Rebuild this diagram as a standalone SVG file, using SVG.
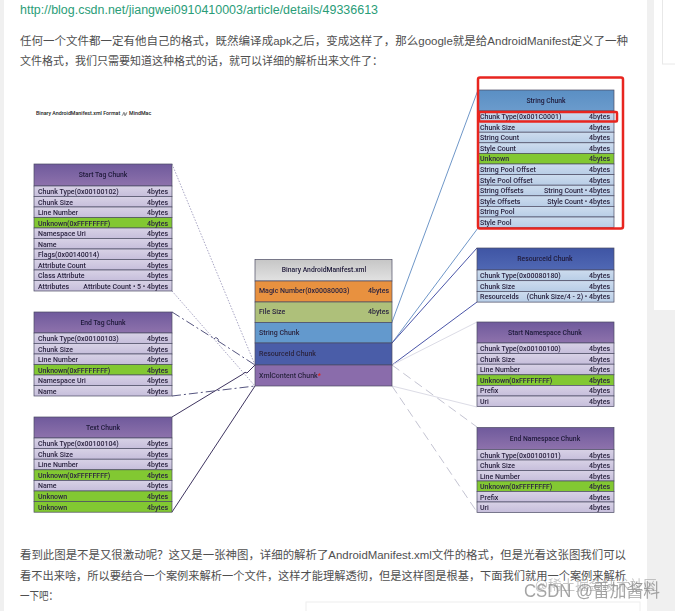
<svg xmlns="http://www.w3.org/2000/svg" width="675" height="611" viewBox="0 0 675 611">
<style>
.p{font:11.600px "Liberation Sans","Noto Sans CJK SC",sans-serif;fill:#4f4f4f}
.u{font:12.500px "Liberation Sans",sans-serif;fill:#2a9d78}
.m{font:500 5.300px Roboto,sans-serif;fill:#222}
.t{font:500 7px Roboto,"Liberation Sans",sans-serif;fill:#2b2440;filter:url(#b)}
.h{font:500 6.800px Roboto,"Liberation Sans",sans-serif;fill:#1f1a3a;text-anchor:middle;filter:url(#b)}
.e{text-anchor:end}
.r{stroke:#4b4a63;stroke-width:.7}
.pr{fill:url(#rowP)}.bl{fill:url(#rowB)}.gr{fill:#82c832}
.c{fill:none;stroke-width:1}
</style>
<defs>
<filter id="b" x="-5%" y="-20%" width="110%" height="140%"><feGaussianBlur stdDeviation="0.22"/></filter>
<linearGradient id="hP" x1="0" y1="0" x2="0" y2="1"><stop offset="0" stop-color="#6f5a9c"/><stop offset="1" stop-color="#8e72ac"/></linearGradient>
<linearGradient id="hB" x1="0" y1="0" x2="0" y2="1"><stop offset="0" stop-color="#5a8fc4"/><stop offset="1" stop-color="#6b9bcc"/></linearGradient>
<linearGradient id="hD" x1="0" y1="0" x2="0" y2="1"><stop offset="0" stop-color="#3f55a4"/><stop offset="1" stop-color="#5068b4"/></linearGradient>
<linearGradient id="hG" x1="0" y1="0" x2="0" y2="1"><stop offset="0" stop-color="#c6c6c6"/><stop offset="1" stop-color="#e2e2e2"/></linearGradient>
<linearGradient id="rowP" x1="0" y1="0" x2="0" y2="1"><stop offset="0" stop-color="#d8d2e6"/><stop offset="1" stop-color="#c6bedb"/></linearGradient>
<linearGradient id="rowB" x1="0" y1="0" x2="0" y2="1"><stop offset="0" stop-color="#cddcee"/><stop offset="1" stop-color="#b8cde6"/></linearGradient>
</defs>
<rect width="675" height="611" fill="#f0f0f0"/>
<rect x="4" width="643" height="611" fill="#fff"/>
<rect x="654" width="21" height="310" fill="#fff"/>
<rect x="662.500" y="-2" width="20" height="66" fill="#fff" stroke="#e8e8e8"/>
<rect x="306" y="602" width="334" height="12" fill="#fff" stroke="#eee"/>
<text class="u" x="20" y="14" textLength="358" lengthAdjust="spacingAndGlyphs">http://blog.csdn.net/jiangwei0910410003/article/details/49336613</text>
<text class="p" x="20" y="45" textLength="608" lengthAdjust="spacingAndGlyphs">任何一个文件都一定有他自己的格式，既然编译成apk之后，变成这样了，那么google就是给AndroidManifest定义了一种</text>
<text class="p" x="20" y="65" textLength="363" lengthAdjust="spacingAndGlyphs">文件格式，我们只需要知道这种格式的话，就可以详细的解析出来文件了：</text>
<text class="m" x="36" y="115">Binary AndroidManifest.xml Format</text>
<path d="M122 116l2-4 1 4 2-4M123 114h4" fill="none" stroke="#444" stroke-width=".5"/>
<text class="m" x="129" y="115">MindMac</text>
<text class="p" x="20" y="559" textLength="606" lengthAdjust="spacingAndGlyphs">看到此图是不是又很激动呢？这又是一张神图，详细的解析了AndroidManifest.xml文件的格式，但是光看这张图我们可以</text>
<text class="p" x="20" y="580" textLength="606" lengthAdjust="spacingAndGlyphs">看不出来啥，所以要结合一个案例来解析一个文件，这样才能理解透彻，但是这样图是根基，下面我们就用一个案例来解析</text>
<text class="p" x="20" y="600" textLength="38" lengthAdjust="spacingAndGlyphs">一下吧：</text>
<g id="connectors">
<path class="c" stroke="#a9a6c4" stroke-dasharray="1.500 1.500" d="M172 164L255 365M172 291L255 386"/>
<path class="c" stroke="#55557f" stroke-dasharray="9 3 2 3" d="M172 312L214 338.500M218 341L255 365M172 396L255 386"/>
<path class="c" stroke="#55557f" stroke-width=".7" d="M214 339a2 2 0 1 1 4 2"/>
<path class="c" stroke="#3f3560" d="M172 417L243 374Q245 371 247 373L255 365M172 512L255 386"/>
<path class="c" stroke="#6f97c8" d="M392 322L478 90M392 343L478 228"/>
<path class="c" stroke="#4a55a8" d="M392 343L477 248M392 365L477 302"/>
<path class="c" stroke="#dcdce6" d="M392 365L477 322M392 386L477 407"/>
<path class="c" stroke="#c4c4d2" stroke-dasharray="9 5" d="M392 365L477 427M392 386L477 512"/>
</g>
<g id="start-tag">
<rect x="34" y="164" width="138" height="22" fill="url(#hP)" class="r"/><text class="h" x="103" y="177">Start Tag Chunk</text>
<rect x="34" y="186" width="138" height="10.500" class="pr r"/><text class="t" x="38" y="194">Chunk Type(0x00100102)</text><text class="t e" x="168" y="194">4bytes</text>
<rect x="34" y="196.500" width="138" height="10.500" class="pr r"/><text class="t" x="38" y="204.500">Chunk Size</text><text class="t e" x="168" y="204.500">4bytes</text>
<rect x="34" y="207" width="138" height="10.500" class="pr r"/><text class="t" x="38" y="215">Line Number</text><text class="t e" x="168" y="215">4bytes</text>
<rect x="34" y="217.500" width="138" height="10.500" class="gr r"/><text class="t" x="38" y="225.500">Unknown(0xFFFFFFFF)</text><text class="t e" x="168" y="225.500">4bytes</text>
<rect x="34" y="228" width="138" height="10.500" class="pr r"/><text class="t" x="38" y="236">Namespace Uri</text><text class="t e" x="168" y="236">4bytes</text>
<rect x="34" y="238.500" width="138" height="10.500" class="pr r"/><text class="t" x="38" y="246.500">Name</text><text class="t e" x="168" y="246.500">4bytes</text>
<rect x="34" y="249" width="138" height="10.500" class="pr r"/><text class="t" x="38" y="257">Flags(0x00140014)</text><text class="t e" x="168" y="257">4bytes</text>
<rect x="34" y="259.500" width="138" height="10.500" class="pr r"/><text class="t" x="38" y="267.500">Attribute Count</text><text class="t e" x="168" y="267.500">4bytes</text>
<rect x="34" y="270" width="138" height="10.500" class="pr r"/><text class="t" x="38" y="278">Class Attribute</text><text class="t e" x="168" y="278">4bytes</text>
<rect x="34" y="280.500" width="138" height="10.500" class="pr r"/><text class="t" x="38" y="288.500">Attributes</text><text class="t e" x="168" y="288.500">Attribute Count • 5 • 4bytes</text>
</g>
<g id="end-tag">
<rect x="34" y="312" width="138" height="21" fill="url(#hP)" class="r"/><text class="h" x="103" y="325">End Tag Chunk</text>
<rect x="34" y="333" width="138" height="10.500" class="pr r"/><text class="t" x="38" y="341">Chunk Type(0x00100103)</text><text class="t e" x="168" y="341">4bytes</text>
<rect x="34" y="343.500" width="138" height="10.500" class="pr r"/><text class="t" x="38" y="351.500">Chunk Size</text><text class="t e" x="168" y="351.500">4bytes</text>
<rect x="34" y="354" width="138" height="10.500" class="pr r"/><text class="t" x="38" y="362">Line Number</text><text class="t e" x="168" y="362">4bytes</text>
<rect x="34" y="364.500" width="138" height="10.500" class="gr r"/><text class="t" x="38" y="372.500">Unknown(0xFFFFFFFF)</text><text class="t e" x="168" y="372.500">4bytes</text>
<rect x="34" y="375" width="138" height="10.500" class="pr r"/><text class="t" x="38" y="383">Namespace Uri</text><text class="t e" x="168" y="383">4bytes</text>
<rect x="34" y="385.500" width="138" height="10.500" class="pr r"/><text class="t" x="38" y="393.500">Name</text><text class="t e" x="168" y="393.500">4bytes</text>
</g>
<g id="text-chunk">
<rect x="34" y="417" width="138" height="21" fill="url(#hP)" class="r"/><text class="h" x="103" y="430">Text Chunk</text>
<rect x="34" y="438" width="138" height="10.600" class="pr r"/><text class="t" x="38" y="446">Chunk Type(0x00100104)</text><text class="t e" x="168" y="446">4bytes</text>
<rect x="34" y="448.600" width="138" height="10.600" class="pr r"/><text class="t" x="38" y="456.600">Chunk Size</text><text class="t e" x="168" y="456.600">4bytes</text>
<rect x="34" y="459.200" width="138" height="10.600" class="pr r"/><text class="t" x="38" y="467.200">Line Number</text><text class="t e" x="168" y="467.200">4bytes</text>
<rect x="34" y="469.800" width="138" height="10.600" class="gr r"/><text class="t" x="38" y="477.800">Unknown(0xFFFFFFFF)</text><text class="t e" x="168" y="477.800">4bytes</text>
<rect x="34" y="480.400" width="138" height="10.600" class="pr r"/><text class="t" x="38" y="488.400">Name</text><text class="t e" x="168" y="488.400">4bytes</text>
<rect x="34" y="491" width="138" height="10.600" class="gr r"/><text class="t" x="38" y="499">Unknown</text><text class="t e" x="168" y="499">4bytes</text>
<rect x="34" y="501.600" width="138" height="10.600" class="gr r"/><text class="t" x="38" y="509.600">Unknown</text><text class="t e" x="168" y="509.600">4bytes</text>
</g>
<g id="manifest">
<rect x="255" y="259.500" width="137" height="21.500" fill="url(#hG)" class="r"/><text class="h" x="324" y="272">Binary AndroidManifest.xml</text>
<rect x="255" y="281" width="137" height="21" fill="#e8913f" class="r"/><text class="t" x="259" y="292.500">Magic Number(0x00080003)</text><text class="t e" x="389" y="292.500">4bytes</text>
<rect x="255" y="302" width="137" height="20.500" fill="#aec07a" class="r"/><text class="t" x="259" y="314">File Size</text><text class="t e" x="389" y="314">4bytes</text>
<rect x="255" y="322.500" width="137" height="20.500" fill="#6399cd" class="r"/><text class="t" x="259" y="335">String Chunk</text>
<rect x="255" y="343" width="137" height="22" fill="#4a5da8" class="r"/><text class="t" x="259" y="356">ResourceId Chunk</text>
<rect x="255" y="365" width="137" height="21" fill="#8a6cab" class="r"/><text class="t" x="259" y="378">XmlContent Chunk<tspan fill="#e02020">*</tspan></text>
</g>
<g id="string-chunk">
<rect x="478.500" y="90" width="135.500" height="21" fill="url(#hB)" class="r"/><text class="h" x="546" y="103">String Chunk</text>
<rect x="478.500" y="111" width="135.500" height="10.600" class="bl r"/><text class="t" x="480" y="119">Chunk Type(0x001C0001)</text><text class="t e" x="610" y="119">4bytes</text>
<rect x="478.500" y="121.600" width="135.500" height="10.600" class="bl r"/><text class="t" x="480" y="129.600">Chunk Size</text><text class="t e" x="610" y="129.600">4bytes</text>
<rect x="478.500" y="132.200" width="135.500" height="10.600" class="bl r"/><text class="t" x="480" y="140.200">String Count</text><text class="t e" x="610" y="140.200">4bytes</text>
<rect x="478.500" y="142.800" width="135.500" height="10.600" class="bl r"/><text class="t" x="480" y="150.800">Style Count</text><text class="t e" x="610" y="150.800">4bytes</text>
<rect x="478.500" y="153.400" width="135.500" height="10.600" class="gr r"/><text class="t" x="480" y="161.400">Unknown</text><text class="t e" x="610" y="161.400">4bytes</text>
<rect x="478.500" y="164" width="135.500" height="10.600" class="bl r"/><text class="t" x="480" y="172">String Pool Offset</text><text class="t e" x="610" y="172">4bytes</text>
<rect x="478.500" y="174.600" width="135.500" height="10.600" class="bl r"/><text class="t" x="480" y="182.600">Style Pool Offset</text><text class="t e" x="610" y="182.600">4bytes</text>
<rect x="478.500" y="185.200" width="135.500" height="10.600" class="bl r"/><text class="t" x="480" y="193.200">String Offsets</text><text class="t e" x="610" y="193.200">String Count • 4bytes</text>
<rect x="478.500" y="195.800" width="135.500" height="10.600" class="bl r"/><text class="t" x="480" y="203.800">Style Offsets</text><text class="t e" x="610" y="203.800">Style Count • 4bytes</text>
<rect x="478.500" y="206.400" width="135.500" height="10.600" class="bl r"/><text class="t" x="480" y="214.400">String Pool</text>
<rect x="478.500" y="217" width="135.500" height="10.600" class="bl r"/><text class="t" x="480" y="225">Style Pool</text>
</g>
<g id="resourceid-chunk">
<rect x="477" y="248" width="137" height="22" fill="url(#hD)" class="r"/><text class="h" x="545" y="261">ResourceId Chunk</text>
<rect x="477" y="270" width="137" height="10.700" class="bl r"/><text class="t" x="480" y="278">Chunk Type(0x00080180)</text><text class="t e" x="610" y="278">4bytes</text>
<rect x="477" y="280.700" width="137" height="10.700" class="bl r"/><text class="t" x="480" y="288.700">Chunk Size</text><text class="t e" x="610" y="288.700">4bytes</text>
<rect x="477" y="291.400" width="137" height="10.700" class="bl r"/><text class="t" x="480" y="299.400">ResourceIds</text><text class="t e" x="610" y="299.400">(Chunk Size/4 - 2) • 4bytes</text>
</g>
<g id="start-namespace">
<rect x="477" y="322" width="137" height="21" fill="url(#hP)" class="r"/><text class="h" x="545" y="335">Start Namespace Chunk</text>
<rect x="477" y="343" width="137" height="10.600" class="pr r"/><text class="t" x="480" y="351">Chunk Type(0x00100100)</text><text class="t e" x="610" y="351">4bytes</text>
<rect x="477" y="353.600" width="137" height="10.600" class="pr r"/><text class="t" x="480" y="361.600">Chunk Size</text><text class="t e" x="610" y="361.600">4bytes</text>
<rect x="477" y="364.200" width="137" height="10.600" class="pr r"/><text class="t" x="480" y="372.200">Line Number</text><text class="t e" x="610" y="372.200">4bytes</text>
<rect x="477" y="374.800" width="137" height="10.600" class="gr r"/><text class="t" x="480" y="382.800">Unknown(0xFFFFFFFF)</text><text class="t e" x="610" y="382.800">4bytes</text>
<rect x="477" y="385.400" width="137" height="10.600" class="pr r"/><text class="t" x="480" y="393.400">Prefix</text><text class="t e" x="610" y="393.400">4bytes</text>
<rect x="477" y="396" width="137" height="10.600" class="pr r"/><text class="t" x="480" y="404">Uri</text><text class="t e" x="610" y="404">4bytes</text>
</g>
<g id="end-namespace">
<rect x="477" y="427.500" width="137" height="22" fill="url(#hP)" class="r"/><text class="h" x="545" y="441">End Namespace Chunk</text>
<rect x="477" y="449.500" width="137" height="10.500" class="pr r"/><text class="t" x="480" y="457.500">Chunk Type(0x00100101)</text><text class="t e" x="610" y="457.500">4bytes</text>
<rect x="477" y="460" width="137" height="10.500" class="pr r"/><text class="t" x="480" y="468">Chunk Size</text><text class="t e" x="610" y="468">4bytes</text>
<rect x="477" y="470.500" width="137" height="10.500" class="pr r"/><text class="t" x="480" y="478.500">Line Number</text><text class="t e" x="610" y="478.500">4bytes</text>
<rect x="477" y="481" width="137" height="10.500" class="gr r"/><text class="t" x="480" y="489">Unknown(0xFFFFFFFF)</text><text class="t e" x="610" y="489">4bytes</text>
<rect x="477" y="491.500" width="137" height="10.500" class="pr r"/><text class="t" x="480" y="499.500">Prefix</text><text class="t e" x="610" y="499.500">4bytes</text>
<rect x="477" y="502" width="137" height="10.500" class="pr r"/><text class="t" x="480" y="510">Uri</text><text class="t e" x="610" y="510">4bytes</text>
</g>
<rect x="478" y="77.500" width="145" height="151" rx="2" fill="none" stroke="#e8251f" stroke-width="2.500"/>
<rect x="479" y="112" width="138" height="9.500" rx="1" fill="none" stroke="#e8251f" stroke-width="2.500"/>
<text x="657" y="590" text-anchor="end" textLength="122" lengthAdjust="spacingAndGlyphs" style="font:14px 'Noto Sans CJK SC',sans-serif;fill:#999;opacity:.55">@稀土掘金技术社区</text>
<text x="660" y="597" text-anchor="end" textLength="136" lengthAdjust="spacingAndGlyphs" style="font:18px 'Liberation Sans','Noto Sans CJK SC',sans-serif;fill:#888;opacity:.75">CSDN @雷加酱料</text>
</svg>
